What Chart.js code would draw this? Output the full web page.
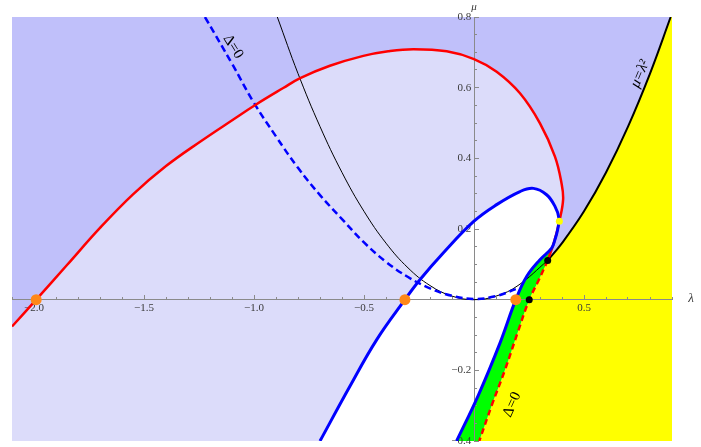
<!DOCTYPE html>
<html>
<head>
<meta charset="utf-8">
<script src="https://cdn.jsdelivr.net/npm/chart.js@4/dist/chart.umd.min.js"></script>
<style>
  html, body { margin: 0; padding: 0; background: #fff; }
  canvas { display: block; }
</style>
</head>
<body>
<canvas id="plot" width="701" height="447"></canvas>
<script>
// axis ticks (major ones carry labels)
const xTicks = [-2.0, -1.5, -1.0, -0.5, 0.5];
const xTickLabels = ['\u22122.0', '\u22121.5', '\u22121.0', '\u22120.5', '0.5'];
const yTicks = [-0.4, -0.2, 0.2, 0.4, 0.6, 0.8];
const yTickLabels = ['\u22120.4', '\u22120.2', '0.2', '0.4', '0.6', '0.8'];

// curves as [lambda, mu]
const redArc = [
  [-2.10, -0.076], [-1.99, 0.0], [-1.85, 0.098], [-1.70, 0.203], [-1.55, 0.298],
  [-1.40, 0.378], [-1.245, 0.447], [-1.094, 0.510], [-0.994, 0.551], [-0.867, 0.599],
  [-0.79, 0.627], [-0.655, 0.662], [-0.503, 0.690], [-0.39, 0.703], [-0.276, 0.709],
  [-0.124, 0.703], [0.0, 0.681], [0.103, 0.645], [0.209, 0.584], [0.30, 0.499],
  [0.368, 0.405], [0.398, 0.329], [0.405, 0.283], [0.388, 0.222], [0.365, 0.165],
  [0.335, 0.111]
];
const redDashed = [
  [0.335, 0.111], [0.29, 0.05], [0.251, 0.0], [0.20, -0.09], [0.14, -0.20],
  [0.08, -0.30], [0.024, -0.40]
];
const blueLoop = [
  [-0.70, -0.40], [-0.564, -0.245], [-0.442, -0.113], [-0.314, 0.0], [-0.245, 0.057],
  [-0.14, 0.132], [0.0, 0.222], [0.103, 0.269], [0.209, 0.306], [0.27, 0.315],
  [0.33, 0.297], [0.368, 0.264], [0.386, 0.231], [0.38, 0.198], [0.368, 0.17],
  [0.353, 0.146]
];
const blueBranch = [
  [0.353, 0.146], [0.30, 0.113], [0.24, 0.066], [0.19, 0.0], [0.118, -0.123],
  [0.02, -0.27], [-0.079, -0.40]
];
const blueDashed = [
  [-1.223, 0.80], [-1.10, 0.668], [-1.003, 0.560], [-0.90, 0.462], [-0.80, 0.373],
  [-0.70, 0.296], [-0.60, 0.228], [-0.50, 0.162], [-0.40, 0.107], [-0.30, 0.064],
  [-0.20, 0.032], [-0.10, 0.011], [0.0, 0.002], [0.10, 0.010], [0.19, 0.03]
];
const parabolaThin = [
  [-0.894, 0.80], [-0.8, 0.64], [-0.7, 0.49], [-0.6, 0.36], [-0.5, 0.25], [-0.4, 0.16],
  [-0.3, 0.09], [-0.2, 0.04], [-0.1, 0.01], [0.0, 0.0], [0.1, 0.01], [0.2, 0.04],
  [0.335, 0.111]
];
const parabolaThick = [
  [0.335, 0.111], [0.4, 0.16], [0.5, 0.25], [0.6, 0.36], [0.7, 0.49], [0.8, 0.64],
  [0.894, 0.80]
];

const orangeDots = [[-1.99, 0.0], [-0.314, 0.0], [0.19, 0.0]];
const yellowDots = [[0.388, 0.222]];
const blackDots = [[0.335, 0.111], [0.251, 0.0]];

// points beyond the plot range, only used to close the shaded regions
const plotFrame = [[-2.4, -0.7], [1.2, -0.7], [1.2, 1.0], [-2.4, 1.0]];
const lightClose = [[-0.06, -0.55], [-2.4, -0.55], [-2.4, -0.2]];
const yellowClose = [[0.95, 0.90], [1.2, 0.90], [1.2, -0.55], [-0.06, -0.55]];
const whiteClose = [[-0.18, -0.55], [-0.83, -0.55]];
const greenClose = [[-0.18, -0.55], [-0.06, -0.55]];

const notes = [
  { text: '\u0394=0', at: [-1.095, 0.716], angle: 58, font: '15px "Liberation Serif"' },
  { text: '\u03bc=\u03bb\u00b2', at: [0.755, 0.639], angle: -67, font: 'italic 15px "Liberation Serif"' },
  { text: '\u0394=0', at: [0.173, -0.297], angle: -66, font: '15px "Liberation Serif"' }
];

const AXIS_COLOR = '#8a8a8a';
const LABEL_COLOR = '#3a3a3a';

const toPoints = (arr) => arr.map(([x, y]) => ({ x, y }));
const reversed = (arr) => arr.slice().reverse();

// concat parts, dropping a point that repeats the previous one
function join(...parts) {
  const out = [];
  parts.forEach(part => part.forEach(p => {
    const last = out[out.length - 1];
    if (!last || last[0] !== p[0] || last[1] !== p[1]) out.push(p);
  }));
  return out;
}

function region(arr, color, order, tension = 0.4) {
  return {
    data: toPoints(arr),
    showLine: true,
    fill: 'shape',
    backgroundColor: color,
    borderWidth: 0,
    pointRadius: 0,
    tension,
    order
  };
}

function curve(arr, color, width, order, dash = []) {
  return {
    data: toPoints(arr),
    showLine: true,
    fill: false,
    borderColor: color,
    borderWidth: width,
    borderDash: dash,
    pointRadius: 0,
    tension: 0.4,
    order
  };
}

function dots(arr, color, radius, order) {
  return {
    data: toPoints(arr),
    showLine: false,
    pointRadius: radius,
    pointBackgroundColor: color,
    pointBorderWidth: 0,
    order
  };
}

const textPlugin = {
  id: 'plotText',
  afterDraw(chart) {
    const { ctx, chartArea, scales: { x, y } } = chart;
    notes.forEach(n => {
      ctx.save();
      ctx.translate(x.getPixelForValue(n.at[0]), y.getPixelForValue(n.at[1]));
      ctx.rotate(n.angle * Math.PI / 180);
      ctx.font = n.font;
      ctx.fillStyle = '#000';
      ctx.textAlign = 'center';
      ctx.textBaseline = 'middle';
      ctx.fillText(n.text, 0, 0);
      ctx.restore();
    });

    // axis names
    ctx.save();
    ctx.fillStyle = LABEL_COLOR;
    ctx.textBaseline = 'middle';
    ctx.textAlign = 'center';
    ctx.font = 'italic 13px "Liberation Serif"';
    ctx.fillText('\u03bb', chartArea.right + 19, y.getPixelForValue(0) - 1);
    ctx.font = 'italic 11px "Liberation Serif"';
    ctx.fillText('\u03bc', x.getPixelForValue(0), chartArea.top - 10);
    ctx.restore();
  }
};

const tickFont = { family: 'Liberation Serif', size: 11, lineHeight: 1.0 };

const datasets = [
  // marks on top
  dots(orangeDots, 'rgb(255,136,24)', 5.5, 0),
  dots(yellowDots, 'rgb(255,255,0)', 3.5, 0),
  dots(blackDots, '#000', 3.5, 0),
  curve(blueLoop.concat(blueBranch.slice(1)), 'rgb(0,0,255)', 3, 1),
  curve(redArc, 'rgb(255,0,0)', 2.5, 2),
  curve(redDashed, 'rgb(255,0,0)', 2.5, 3, [6, 4]),
  curve(blueDashed, 'rgb(0,0,255)', 2.5, 4, [7, 4]),
  curve(parabolaThick, '#000', 2, 5),
  curve(parabolaThin, '#000', 1, 6),
  // shaded regions, back to front is highest order first
  region(join(blueBranch, greenClose, reversed(redDashed)), 'rgb(0,255,0)', 10),
  region(join(blueLoop, blueBranch, whiteClose), '#ffffff', 11),
  region(join(yellowClose, reversed(redDashed), parabolaThick), 'rgb(255,255,0)', 12),
  region(join(redArc, redDashed, lightClose), 'rgb(220,220,250)', 13),
  region(plotFrame, 'rgb(192,192,250)', 14, 0)
];

const scaleBase = {
  type: 'linear',
  grid: { drawOnChartArea: false, tickColor: AXIS_COLOR, tickWidth: 1 },
  border: { color: AXIS_COLOR, width: 1 }
};

new Chart(document.getElementById('plot'), {
  type: 'scatter',
  data: { datasets },
  options: {
    responsive: false,
    animation: false,
    devicePixelRatio: 1,
    layout: { padding: { left: 12, top: 17, right: 29, bottom: 6 } },
    plugins: {
      legend: { display: false },
      tooltip: { enabled: false },
      filler: { drawTime: 'beforeDraw', propagate: false }
    },
    scales: {
      x: {
        ...scaleBase,
        min: -2.1, max: 0.9,
        position: { y: 0 },
        afterBuildTicks: (s) => { s.ticks = xTicks.map(v => ({ value: v })); },
        ticks: {
          callback: (v, i) => xTickLabels[i],
          font: tickFont, color: LABEL_COLOR, padding: 8,
          maxRotation: 0, autoSkip: false
        },
        grid: { ...scaleBase.grid, tickLength: -5 }
      },
      y: {
        ...scaleBase,
        min: -0.4, max: 0.8,
        position: { x: 0 },
        afterBuildTicks: (s) => { s.ticks = yTicks.map(v => ({ value: v })); },
        ticks: {
          callback: (v, i) => yTickLabels[i] + ' ',
          font: tickFont, color: LABEL_COLOR, padding: 0, autoSkip: false
        },
        grid: { ...scaleBase.grid, tickLength: -5 }
      },
      xMinor: {
        ...scaleBase,
        axis: 'x',
        min: -2.1, max: 0.9,
        position: { y: 0 },
        ticks: { stepSize: 0.1, display: false },
        grid: { ...scaleBase.grid, tickLength: -3 },
        border: { display: false }
      },
      yMinor: {
        ...scaleBase,
        axis: 'y',
        min: -0.4, max: 0.8,
        position: { x: 0 },
        ticks: { stepSize: 0.05, display: false },
        grid: { ...scaleBase.grid, tickLength: -3 },
        border: { display: false }
      }
    }
  },
  plugins: [textPlugin]
});
</script>
</body>
</html>
